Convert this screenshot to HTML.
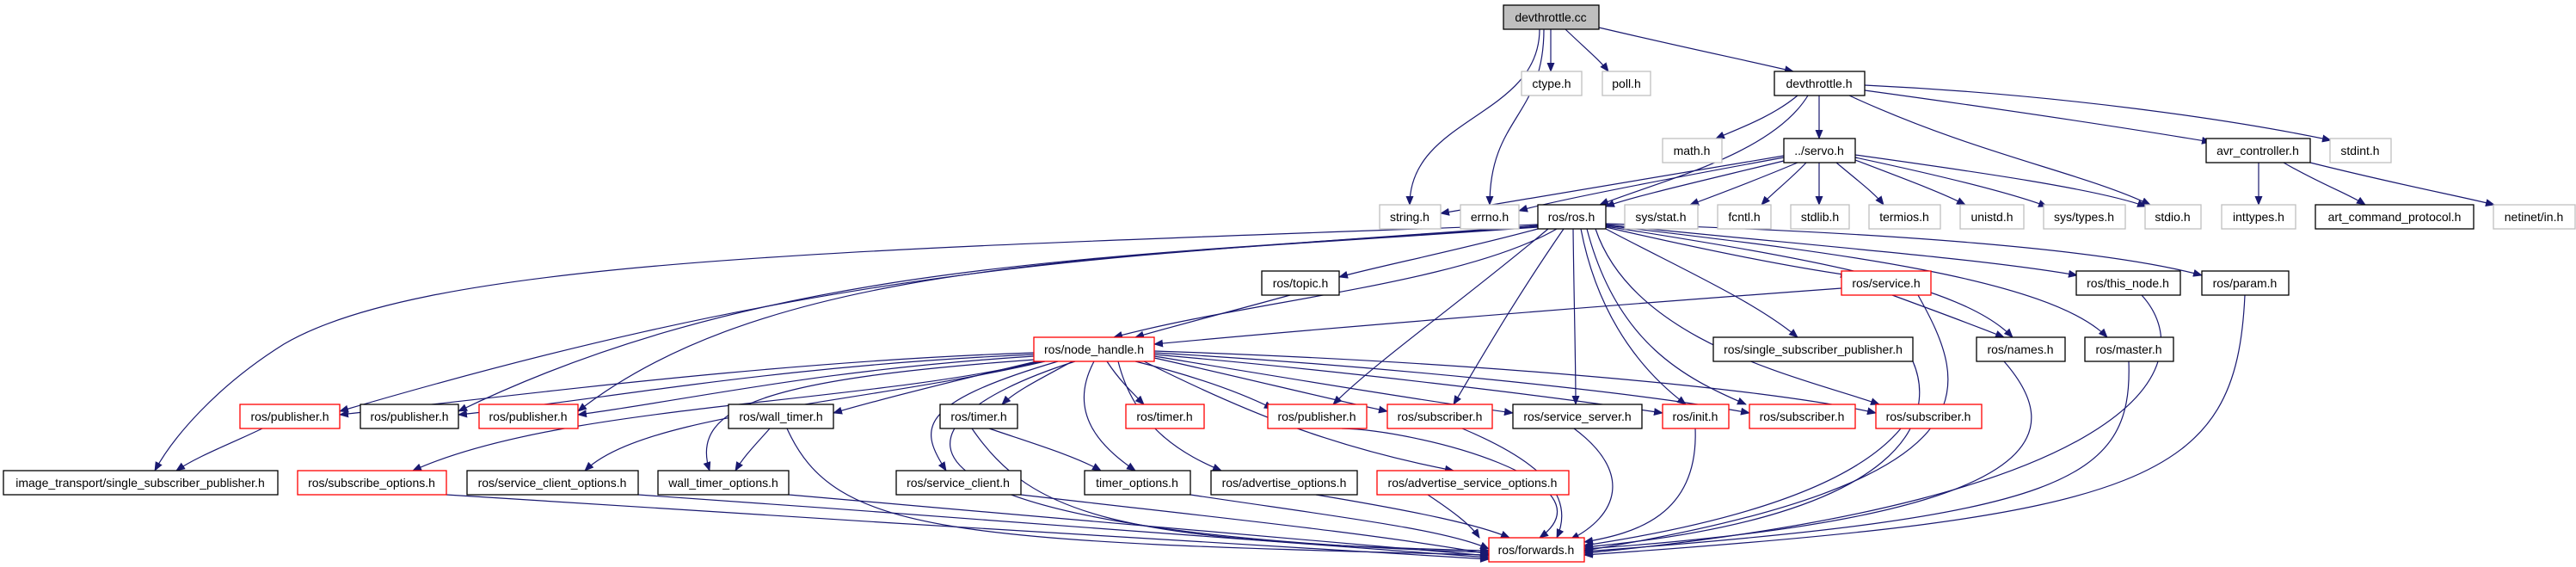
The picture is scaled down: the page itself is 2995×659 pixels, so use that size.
<!DOCTYPE html>
<html><head><meta charset="utf-8"><style>
html,body{margin:0;padding:0;background:#fff;}
svg{display:block;}
text{font-family:"Liberation Sans",sans-serif;font-size:14px;text-anchor:middle;dominant-baseline:central;fill:#000;}
.e{fill:none;stroke:#191970;stroke-width:1.2;marker-end:url(#a);}
.g{fill:#fff;stroke:#bfbfbf;stroke-width:1.3;}
.b{fill:#fff;stroke:#000;stroke-width:1.3;}
.r{fill:#fff;stroke:#ff0000;stroke-width:1.3;}
</style></head><body>
<svg width="2995" height="659" viewBox="0 0 2995 659" xmlns="http://www.w3.org/2000/svg">
<defs><marker id="a" markerUnits="userSpaceOnUse" markerWidth="11" markerHeight="9" refX="10" refY="4.5" orient="auto"><path d="M0,0 L11,4.5 L0,9 z" fill="#191970"/></marker></defs>
<g id="edges">
<path class="e" d="M1790 34 C1790 136 1639 136 1639 238"/>
<path class="e" d="M1795 34 C1795 136 1732 136 1732 238"/>
<path class="e" d="M1803 34 C1803 58 1803 58 1803 83"/>
<path class="e" d="M1820 34 C1845 58 1860 70 1870 83"/>
<path class="e" d="M1859 32 C1970 58 2030 70 2085 83"/>
<path class="e" d="M2090 111 C2060 136 2020 150 1995 161"/>
<path class="e" d="M2115 111 L2115 161"/>
<path class="e" d="M2102 111 C2060 180 1930 210 1860 238"/>
<path class="e" d="M2150 111 C2300 180 2420 200 2500 238"/>
<path class="e" d="M2168 105 C2350 130 2480 150 2570 165"/>
<path class="e" d="M2168 99 C2400 110 2600 140 2710 163"/>
<path class="e" d="M2074 181 C1900 210 1750 235 1675 248"/>
<path class="e" d="M2074 183 C1900 215 1800 235 1766 245"/>
<path class="e" d="M2078 186 C1980 210 1900 228 1867 240"/>
<path class="e" d="M2090 189 C2040 210 2000 225 1965 238"/>
<path class="e" d="M2100 189 C2080 210 2060 225 2048 238"/>
<path class="e" d="M2115 189 L2115 238"/>
<path class="e" d="M2135 189 C2160 210 2180 225 2190 238"/>
<path class="e" d="M2157 186 C2220 210 2260 225 2285 238"/>
<path class="e" d="M2157 183 C2260 205 2340 225 2380 240"/>
<path class="e" d="M2157 180 C2300 200 2440 220 2495 240"/>
<path class="e" d="M2626 189 L2626 238"/>
<path class="e" d="M2655 189 C2700 215 2730 225 2750 238"/>
<path class="e" d="M2686 189 C2790 215 2860 228 2900 238"/>
<path class="e" d="M1788 266 C1700 290 1600 310 1557 322"/>
<path class="e" d="M1810 266 C1700 330 1450 350 1295 392"/>
<path class="e" d="M1788 262 C1300 300 1000 300 395 478"/>
<path class="e" d="M1788 263 C1300 300 900 300 533 478"/>
<path class="e" d="M1788 264 C1300 300 900 300 672 478"/>
<path class="e" d="M1788 261 C1000 290 500 300 330 400 C250 450 200 510 180 547"/>
<path class="e" d="M1800 266 C1700 350 1600 420 1550 470"/>
<path class="e" d="M1818 266 C1760 350 1720 420 1690 470"/>
<path class="e" d="M1829 266 C1830 350 1832 420 1832 470"/>
<path class="e" d="M1838 266 C1860 380 1920 440 1960 470"/>
<path class="e" d="M1845 266 C1880 400 1960 440 2030 470"/>
<path class="e" d="M1855 266 C1900 400 2100 440 2185 470"/>
<path class="e" d="M1867 266 C1950 310 2040 350 2090 392"/>
<path class="e" d="M1867 264 C1980 290 2080 310 2150 320"/>
<path class="e" d="M1867 263 C2100 300 2280 330 2340 392"/>
<path class="e" d="M1867 262 C2100 290 2380 320 2450 392"/>
<path class="e" d="M1867 261 C2100 285 2300 300 2415 320"/>
<path class="e" d="M1867 260 C2200 270 2450 290 2560 320"/>
<path class="e" d="M1500 343 C1420 365 1360 380 1320 392"/>
<path class="e" d="M2141 335 C1800 360 1500 385 1342 400"/>
<path class="e" d="M2200 343 C2260 365 2300 380 2330 392"/>
<path class="e" d="M2230 343 C2290 450 2330 560 1842 640"/>
<path class="e" d="M1202 410 C900 420 600 460 395 482"/>
<path class="e" d="M1202 412 C900 425 700 465 533 482"/>
<path class="e" d="M1202 414 C950 430 800 465 672 482"/>
<path class="e" d="M1210 420 C1000 470 650 470 480 547"/>
<path class="e" d="M1215 420 C1000 470 750 480 680 547"/>
<path class="e" d="M1205 420 C1100 445 1020 465 969 480"/>
<path class="e" d="M1203 418 C900 440 800 470 825 547"/>
<path class="e" d="M1230 420 C1060 470 1070 500 1100 547"/>
<path class="e" d="M1247 420 C1210 440 1180 455 1165 470"/>
<path class="e" d="M1272 420 C1240 480 1280 520 1320 547"/>
<path class="e" d="M1287 420 C1300 440 1315 455 1330 470"/>
<path class="e" d="M1300 420 C1320 500 1380 530 1420 547"/>
<path class="e" d="M1320 420 C1400 440 1450 460 1480 475"/>
<path class="e" d="M1342 416 C1450 440 1550 465 1613 478"/>
<path class="e" d="M1342 414 C1500 440 1650 465 1759 480"/>
<path class="e" d="M1330 420 C1450 480 1550 520 1690 547"/>
<path class="e" d="M1342 412 C1550 430 1800 460 1933 480"/>
<path class="e" d="M1342 410 C1600 425 1900 455 2034 480"/>
<path class="e" d="M1342 408 C1700 420 2050 450 2181 480"/>
<path class="e" d="M1250 420 C1000 500 1020 620 1731 642"/>
<path class="e" d="M305 498 C270 515 230 530 205 547"/>
<path class="e" d="M895 498 C880 515 865 530 855 547"/>
<path class="e" d="M915 498 C970 620 1100 630 1731 645"/>
<path class="e" d="M1150 498 C1200 515 1250 530 1280 547"/>
<path class="e" d="M1130 498 C1200 600 1300 630 1731 640"/>
<path class="e" d="M519 575 C900 600 1400 630 1731 650"/>
<path class="e" d="M742 575 C1100 600 1500 630 1731 648"/>
<path class="e" d="M917 575 C1200 600 1500 625 1731 646"/>
<path class="e" d="M1187 575 C1400 600 1600 620 1731 644"/>
<path class="e" d="M1384 575 C1550 600 1680 615 1731 638"/>
<path class="e" d="M1530 575 C1650 595 1720 610 1755 625"/>
<path class="e" d="M1660 575 C1690 595 1710 610 1720 625"/>
<path class="e" d="M1560 498 C1650 500 1880 560 1790 625"/>
<path class="e" d="M1700 498 C1800 540 1830 580 1810 625"/>
<path class="e" d="M1830 498 C1900 550 1880 600 1826 627"/>
<path class="e" d="M1971 498 C1975 600 1900 620 1842 630"/>
<path class="e" d="M2210 498 C2150 570 2000 610 1842 634"/>
<path class="e" d="M2224 420 C2250 480 2230 600 1842 636"/>
<path class="e" d="M2330 420 C2400 500 2400 600 1842 638"/>
<path class="e" d="M2475 420 C2480 560 2400 600 1842 641"/>
<path class="e" d="M2490 343 C2560 420 2500 580 1842 643"/>
<path class="e" d="M2610 343 C2600 560 2500 600 1842 645"/>
</g>
<g id="nodes">
<rect x="1748" y="6" width="111" height="28" fill="#bfbfbf" stroke="#000" stroke-width="1.3"/><text x="1803" y="20">devthrottle.cc</text>
<rect class="g" x="1769" y="83" width="70" height="28"/><text x="1804" y="97">ctype.h</text>
<rect class="g" x="1863" y="83" width="56" height="28"/><text x="1891" y="97">poll.h</text>
<rect class="b" x="2063" y="83" width="105" height="28"/><text x="2115" y="97">devthrottle.h</text>
<rect class="g" x="1933" y="161" width="69" height="28"/><text x="1967" y="175">math.h</text>
<rect class="b" x="2074" y="161" width="83" height="28"/><text x="2115" y="175">../servo.h</text>
<rect class="b" x="2565" y="161" width="121" height="28"/><text x="2625" y="175">avr_controller.h</text>
<rect class="g" x="2709" y="161" width="71" height="28"/><text x="2744" y="175">stdint.h</text>
<rect class="g" x="1604" y="238" width="71" height="28"/><text x="1639" y="252">string.h</text>
<rect class="g" x="1698" y="238" width="68" height="28"/><text x="1732" y="252">errno.h</text>
<rect class="b" x="1788" y="238" width="79" height="28"/><text x="1827" y="252">ros/ros.h</text>
<rect class="g" x="1889" y="238" width="85" height="28"/><text x="1931" y="252">sys/stat.h</text>
<rect class="g" x="1997" y="238" width="62" height="28"/><text x="2028" y="252">fcntl.h</text>
<rect class="g" x="2082" y="238" width="68" height="28"/><text x="2116" y="252">stdlib.h</text>
<rect class="g" x="2173" y="238" width="83" height="28"/><text x="2214" y="252">termios.h</text>
<rect class="g" x="2279" y="238" width="74" height="28"/><text x="2316" y="252">unistd.h</text>
<rect class="g" x="2376" y="238" width="95" height="28"/><text x="2423" y="252">sys/types.h</text>
<rect class="g" x="2494" y="238" width="65" height="28"/><text x="2526" y="252">stdio.h</text>
<rect class="g" x="2583" y="238" width="86" height="28"/><text x="2626" y="252">inttypes.h</text>
<rect class="b" x="2692" y="238" width="184" height="28"/><text x="2784" y="252">art_command_protocol.h</text>
<rect class="g" x="2899" y="238" width="95" height="28"/><text x="2946" y="252">netinet/in.h</text>
<rect class="b" x="1467" y="315" width="90" height="28"/><text x="1512" y="329">ros/topic.h</text>
<rect class="r" x="2141" y="315" width="104" height="28"/><text x="2193" y="329">ros/service.h</text>
<rect class="b" x="2414" y="315" width="121" height="28"/><text x="2474" y="329">ros/this_node.h</text>
<rect class="b" x="2560" y="315" width="101" height="28"/><text x="2610" y="329">ros/param.h</text>
<rect class="r" x="1202" y="392" width="140" height="28"/><text x="1272" y="406">ros/node_handle.h</text>
<rect class="b" x="1992" y="392" width="232" height="28"/><text x="2108" y="406">ros/single_subscriber_publisher.h</text>
<rect class="b" x="2298" y="392" width="103" height="28"/><text x="2349" y="406">ros/names.h</text>
<rect class="b" x="2424" y="392" width="103" height="28"/><text x="2475" y="406">ros/master.h</text>
<rect class="r" x="279" y="470" width="116" height="28"/><text x="337" y="484">ros/publisher.h</text>
<rect class="b" x="419" y="470" width="114" height="28"/><text x="476" y="484">ros/publisher.h</text>
<rect class="r" x="557" y="470" width="115" height="28"/><text x="614" y="484">ros/publisher.h</text>
<rect class="b" x="847" y="470" width="122" height="28"/><text x="908" y="484">ros/wall_timer.h</text>
<rect class="b" x="1093" y="470" width="90" height="28"/><text x="1138" y="484">ros/timer.h</text>
<rect class="r" x="1309" y="470" width="91" height="28"/><text x="1354" y="484">ros/timer.h</text>
<rect class="r" x="1474" y="470" width="115" height="28"/><text x="1531" y="484">ros/publisher.h</text>
<rect class="r" x="1613" y="470" width="122" height="28"/><text x="1674" y="484">ros/subscriber.h</text>
<rect class="b" x="1759" y="470" width="150" height="28"/><text x="1834" y="484">ros/service_server.h</text>
<rect class="r" x="1933" y="470" width="77" height="28"/><text x="1971" y="484">ros/init.h</text>
<rect class="r" x="2034" y="470" width="123" height="28"/><text x="2095" y="484">ros/subscriber.h</text>
<rect class="r" x="2181" y="470" width="123" height="28"/><text x="2242" y="484">ros/subscriber.h</text>
<rect class="b" x="4" y="547" width="319" height="28"/><text x="163" y="561">image_transport/single_subscriber_publisher.h</text>
<rect class="r" x="346" y="547" width="173" height="28"/><text x="432" y="561">ros/subscribe_options.h</text>
<rect class="b" x="543" y="547" width="199" height="28"/><text x="642" y="561">ros/service_client_options.h</text>
<rect class="b" x="765" y="547" width="152" height="28"/><text x="841" y="561">wall_timer_options.h</text>
<rect class="b" x="1042" y="547" width="145" height="28"/><text x="1114" y="561">ros/service_client.h</text>
<rect class="b" x="1261" y="547" width="123" height="28"/><text x="1322" y="561">timer_options.h</text>
<rect class="b" x="1408" y="547" width="170" height="28"/><text x="1493" y="561">ros/advertise_options.h</text>
<rect class="r" x="1601" y="547" width="223" height="28"/><text x="1712" y="561">ros/advertise_service_options.h</text>
<rect class="r" x="1731" y="625" width="111" height="28"/><text x="1786" y="639">ros/forwards.h</text>
</g>
</svg>
</body></html>
